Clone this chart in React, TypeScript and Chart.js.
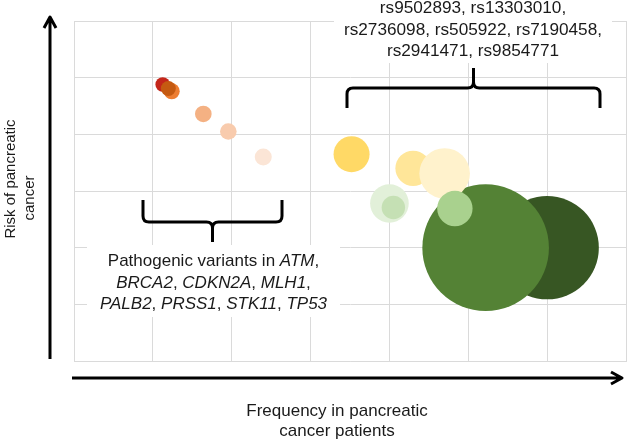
import React, { useEffect, useRef } from "react";
import { Chart, registerables } from "chart.js";

Chart.register(...registerables);

// Bubble values (drawn back to front)
const bubbleX = [6.0, 5.22, 4.3, 4.7, 4.83, 4.0, 4.05, 3.52, 2.4, 1.957, 1.64, 1.125, 1.239, 1.196];
const bubbleY = [2.0, 2.0, 3.4, 3.31, 2.69, 2.78, 2.71, 3.65, 3.6, 4.05, 4.36, 4.88, 4.76, 4.81];
const bubbleR = [51.7, 63.3, 17.7, 25.3, 17.7, 19.3, 11.7, 18, 8.5, 8.3, 8.3, 7.3, 8, 7.5];
const bubbleColors = [
  "#375623", "#548235", "#FFE699", "#FFF2CC", "#A9D18E", "#E2F0D9", "#C5E0B4",
  "#FFD966", "#FBE5D6", "#F8CBAD", "#F4B183", "#C4261A", "#ED7D31", "#C55A11",
];

const xMax = 7;
const yMax = 6;

const snpLabelLines = ["rs9502893, rs13303010,", "rs2736098, rs505922, rs7190458,", "rs2941471, rs9854771"];
type Run = [string, boolean];
const geneLabelLines: Run[][] = [
  [["Pathogenic variants in ", false], ["ATM", true], [",", false]],
  [["BRCA2", true], [", ", false], ["CDKN2A", true], [", ", false], ["MLH1", true], [",", false]],
  [["PALB2", true], [", ", false], ["PRSS1", true], [", ", false], ["STK11", true], [", ", false], ["TP53", true]],
];
const xTitleLines = ["Frequency in pancreatic", "cancer patients"];
const yTitleLines = ["Risk of pancreatic", "cancer"];

const FONT = '"Liberation Sans", Arial, sans-serif';
const TEXT = "#1a1a1a";

function brace(ctx: CanvasRenderingContext2D, x1: number, x2: number, yH: number, yEnd: number, yTip: number) {
  const xm = (x1 + x2) / 2;
  const r = 6;
  const dEnd = Math.sign(yEnd - yH);
  const dTip = Math.sign(yTip - yH);
  ctx.beginPath();
  ctx.moveTo(x1, yEnd);
  ctx.lineTo(x1, yH + dEnd * r);
  ctx.quadraticCurveTo(x1, yH, x1 + r, yH);
  ctx.lineTo(xm - r, yH);
  ctx.quadraticCurveTo(xm, yH, xm, yH + dTip * r);
  ctx.lineTo(xm, yTip);
  ctx.moveTo(xm, yH + dTip * r);
  ctx.quadraticCurveTo(xm, yH, xm + r, yH);
  ctx.lineTo(x2 - r, yH);
  ctx.quadraticCurveTo(x2, yH, x2, yH + dEnd * r);
  ctx.lineTo(x2, yEnd);
  ctx.stroke();
}

function drawRuns(ctx: CanvasRenderingContext2D, runs: Run[], cx: number, y: number, size: number) {
  let total = 0;
  const widths = runs.map(([t, it]) => {
    ctx.font = `${it ? "italic " : ""}${size}px ${FONT}`;
    const w = ctx.measureText(t).width;
    total += w;
    return w;
  });
  let x = cx - total / 2;
  ctx.textAlign = "left";
  runs.forEach(([t, it], i) => {
    ctx.font = `${it ? "italic " : ""}${size}px ${FONT}`;
    ctx.fillText(t, x, y);
    x += widths[i];
  });
}

const annotationPlugin = {
  id: "annotations",
  beforeDatasetsDraw(chart: Chart) {
    const ctx = chart.ctx;
    ctx.save();
    ctx.fillStyle = "#ffffff";
    ctx.fillRect(334, 0, 278, 63);
    ctx.fillRect(87, 245, 253, 72);
    ctx.restore();
  },
  afterDraw(chart: Chart) {
    const ctx = chart.ctx;
    ctx.save();
    ctx.fillStyle = TEXT;
    ctx.strokeStyle = "#000000";
    ctx.textBaseline = "alphabetic";

    // SNP label
    ctx.font = `17.2px ${FONT}`;
    ctx.textAlign = "center";
    const snpBase = [13, 35, 56];
    snpLabelLines.forEach((l, i) => ctx.fillText(l, 473, snpBase[i]));

    // gene label
    const geneBase = [266, 288, 309];
    geneLabelLines.forEach((runs, i) => drawRuns(ctx, runs, 213.5, geneBase[i], 17));

    // braces
    ctx.lineWidth = 3;
    ctx.lineCap = "butt";
    ctx.lineJoin = "round";
    brace(ctx, 347, 600, 88, 108, 68);
    brace(ctx, 143, 282, 222, 200, 242);

    // arrows
    ctx.lineWidth = 3;
    ctx.beginPath();
    ctx.moveTo(50, 359);
    ctx.lineTo(50, 17);
    ctx.moveTo(44, 28);
    ctx.lineTo(50, 17);
    ctx.lineTo(56, 28);
    ctx.moveTo(72, 378);
    ctx.lineTo(621, 378);
    ctx.moveTo(611, 372);
    ctx.lineTo(622, 378);
    ctx.lineTo(611, 384);
    ctx.stroke();

    // axis titles
    ctx.fillStyle = TEXT;
    ctx.font = `17px ${FONT}`;
    ctx.textAlign = "center";
    ctx.fillText(xTitleLines[0], 337, 416);
    ctx.fillText(xTitleLines[1], 337, 436);

    ctx.save();
    ctx.rotate(-Math.PI / 2);
    ctx.font = `15px ${FONT}`;
    ctx.fillText(yTitleLines[0], -179, 15);
    ctx.fillText(yTitleLines[1], -198, 34);
    ctx.restore();

    ctx.restore();
  },
};

export default function App() {
  const ref = useRef<HTMLCanvasElement | null>(null);
  useEffect(() => {
    if (!ref.current) return;
    const chart = new Chart(ref.current, {
      type: "bubble",
      data: {
        datasets: [
          {
            data: bubbleX.map((x, i) => ({ x, y: bubbleY[i], r: bubbleR[i] })),
            backgroundColor: bubbleColors,
            borderWidth: 0,
            hoverBorderWidth: 0,
          },
        ],
      },
      options: {
        responsive: false,
        animation: false,
        layout: { autoPadding: false, padding: { left: 74, top: 21, right: 1, bottom: 79 } },
        plugins: { legend: { display: false }, tooltip: { enabled: false } },
        events: [],
        scales: {
          x: {
            type: "linear",
            min: 0,
            max: xMax,
            ticks: { display: false, stepSize: 1 },
            grid: { color: "#DADADA", drawTicks: false, lineWidth: 1 },
            border: { display: true, color: "#DADADA" },
          },
          y: {
            type: "linear",
            min: 0,
            max: yMax,
            ticks: { display: false, stepSize: 1 },
            grid: { color: "#DADADA", drawTicks: false, lineWidth: 1 },
            border: { display: true, color: "#DADADA" },
          },
        },
      },
      plugins: [annotationPlugin],
    });
    return () => chart.destroy();
  }, []);
  return (
    <div style={{ position: "absolute", left: 0, top: 0, width: 627, height: 440, background: "#fff" }}>
      <canvas ref={ref} width={627} height={440} style={{ display: "block" }} />
    </div>
  );
}
